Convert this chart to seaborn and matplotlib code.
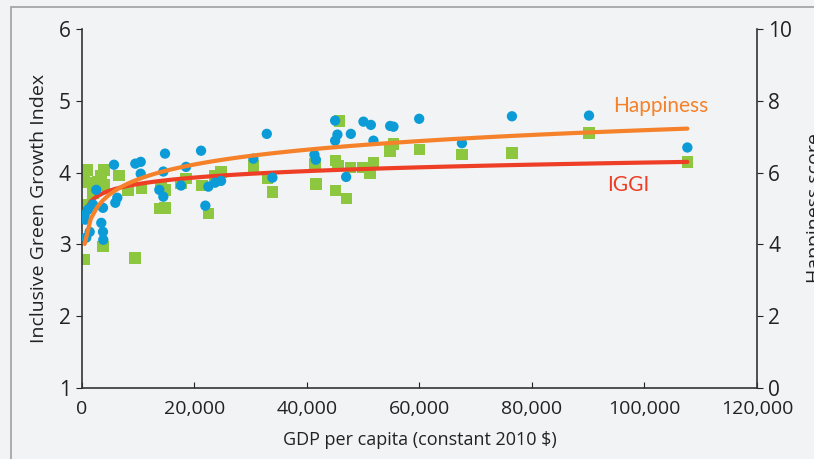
import pandas as pd
import matplotlib.pyplot as plt
import seaborn as sns
from matplotlib.patches import Rectangle
from matplotlib.ticker import FuncFormatter

# IGGI scores (left axis) by GDP per capita
iggi_gdp = [480, 480, 480, 943, 1067, 1957, 2580, 2846, 3380, 3914, 4038, 3736,
            6529, 8183, 10550, 9482, 14054, 14766, 18502, 17612, 21294, 23661,
            24728, 30474, 32965, 33854, 13752, 14766, 22469, 45774, 55380, 54793,
            60006, 41451, 45062, 45489, 47731, 49937, 51823, 51235, 41629, 45062,
            47019, 67549, 76444, 90142, 107630]
iggi_score = [3.87, 3.55, 2.79, 4.04, 3.86, 3.72, 3.86, 3.87, 3.96, 4.04, 3.83, 2.97,
              3.96, 3.76, 3.79, 2.81, 3.82, 3.76, 3.92, 3.85, 3.82, 3.95,
              4.01, 4.09, 3.92, 3.73, 3.50, 3.51, 3.43, 4.72, 4.40, 4.30,
              4.32, 4.12, 4.17, 4.10, 4.07, 4.07, 4.13, 3.99, 3.84, 3.75,
              3.64, 4.25, 4.27, 4.55, 4.15]

# Happiness scores (right axis) by GDP per capita
happy_gdp = [480, 587, 765, 1067, 1370, 1957, 2544, 3433, 3736, 3736, 3789, 5693,
             5924, 6280, 9482, 10443, 10443, 14766, 21170, 14463, 18502, 30474,
             13752, 14463, 17612, 22469, 23661, 24728, 33854, 21935, 32858, 45009,
             50044, 51360, 54793, 55380, 59952, 45418, 45009, 47802, 51823, 41326,
             41575, 46966, 67549, 76444, 90142, 107630]
happy_score = [4.83, 4.69, 4.19, 4.97, 4.35, 5.11, 5.52, 4.60, 5.02, 4.35, 4.13, 6.22,
               5.16, 5.30, 6.25, 6.30, 5.97, 6.53, 6.61, 6.03, 6.16, 6.39,
               5.52, 5.33, 5.64, 5.61, 5.72, 5.77, 5.86, 5.08, 7.08, 7.45,
               7.42, 7.33, 7.30, 7.28, 7.50, 7.06, 6.89, 7.08, 6.89, 6.50,
               6.36, 5.88, 6.82, 7.57, 7.59, 6.70]

x_ticks = [0, 20000, 40000, 60000, 80000, 100000, 120000]

bg = "#f2f3f5"
green = "#8dc63f"
blue = "#0b9bd7"
orange = "#f5822a"
red = "#ee3f26"
dark = "#222222"

sns.set_style("ticks")
plt.rcParams['font.family'] = ['Open Sans', 'DejaVu Sans']

iggi_df = pd.DataFrame({"gdp": iggi_gdp, "iggi": iggi_score})
happy_df = pd.DataFrame({"gdp": happy_gdp, "happiness": happy_score})

fig = plt.figure(figsize=(8.14, 4.59), dpi=100, facecolor=bg)
ax = fig.add_axes([0.1007, 0.1547, 0.8292, 0.782])
ax.set_facecolor(bg)
ax2 = ax.twinx()

# IGGI squares + log fit
sns.scatterplot(data=iggi_df, x="gdp", y="iggi", marker="s", s=70, color=green,
                edgecolor="none", ax=ax, zorder=2)
sns.regplot(data=iggi_df, x="gdp", y="iggi", logx=True, scatter=False, ci=None,
            color=red, line_kws={"lw": 3}, ax=ax)

# Happiness dots + log fit
sns.scatterplot(data=happy_df, x="gdp", y="happiness", marker="o", s=55, color=blue,
                edgecolor="none", ax=ax2, zorder=2)
sns.regplot(data=happy_df, x="gdp", y="happiness", logx=True, scatter=False, ci=None,
            color=orange, line_kws={"lw": 3}, ax=ax2)

ax.set_xlim(0, 120000)
ax.set_ylim(1, 6)
ax2.set_ylim(0, 10)
ax.set_xticks(x_ticks)
ax.xaxis.set_major_formatter(FuncFormatter(lambda v, p: f"{int(v):,}"))
ax.set_yticks([1, 2, 3, 4, 5, 6])
ax2.set_yticks([0, 2, 4, 6, 8, 10])

for a in (ax, ax2):
    a.spines["top"].set_visible(False)
    for s in ("left", "right", "bottom"):
        a.spines[s].set_color("#333333")
        a.spines[s].set_linewidth(1.2)
ax.spines["right"].set_visible(False)
ax2.spines["left"].set_visible(False)
ax2.spines["bottom"].set_visible(False)

ax.tick_params(axis="x", direction="in", length=4, colors=dark, labelsize=14, pad=9)
ax.tick_params(axis="y", direction="out", length=4, colors=dark, labelsize=15, pad=4)
ax2.tick_params(axis="y", direction="out", length=4, colors=dark, labelsize=15, pad=4)

ax.set_xlabel("GDP per capita (constant 2010 $)", fontsize=13, color=dark, labelpad=9)
ax.set_ylabel("Inclusive Green Growth Index", fontsize=14, color=dark, labelpad=8)
ax2.set_ylabel("Happiness score", fontsize=14, color=dark, labelpad=10)

ax.text(94500, 4.93, "Happiness", color=orange, fontsize=15, va="center", ha="left",
        family=["Lato", "DejaVu Sans"])
ax.text(93400, 3.83, "IGGI", color=red, fontsize=15, va="center", ha="left",
        family=["Lato", "DejaVu Sans"])

fig.patches.append(Rectangle((11 / 814, -0.1), 1.0, 1 - 7 / 459 + 0.1,
                             transform=fig.transFigure, fill=False,
                             edgecolor="#a0a0a0", linewidth=1.2))

plt.savefig("out.png", dpi=100, facecolor=bg)
